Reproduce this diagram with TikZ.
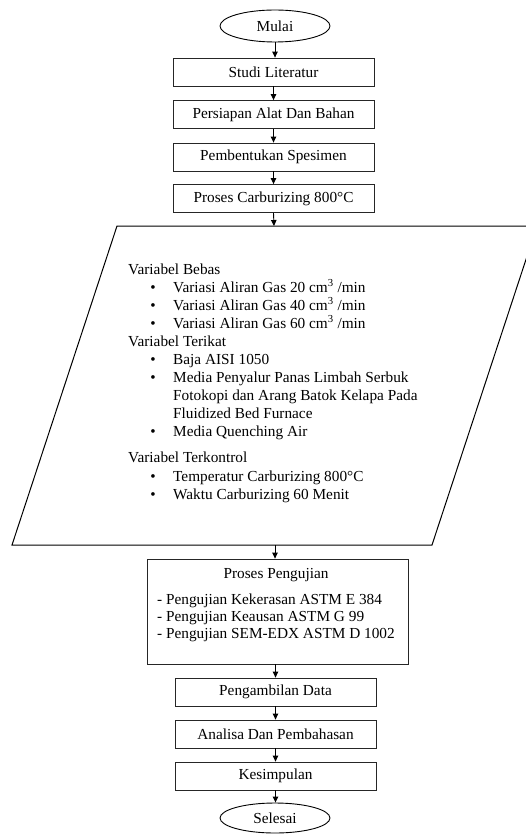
\documentclass[tikz,border=0pt]{standalone}
\usepackage{fontspec}
\setmainfont{Liberation Serif}
\usetikzlibrary{shapes.geometric}
\usetikzlibrary{arrows, arrows.meta}

\begin{document}
\begin{tikzpicture}[x=1pt, y=-1pt, font=\fontsize{15.3}{18}\selectfont]

\useasboundingbox (0, 0) rectangle (526, 834) ;

\def\topx{273.5}
\def\botx{275.5}

\tikzstyle{terminal} = [ellipse, draw=black, line width=.9pt, minimum width=110pt, minimum height=32pt, inner sep=0pt]
\tikzstyle{process box} = [rectangle, draw=black!85, line width=.8pt, minimum width=201pt, minimum height=28pt, inner sep=0pt]
\tikzstyle{flow line} = [line width=.9pt, -{Triangle[length=6pt, width=5.5pt]}]
\tikzstyle{list text} = [anchor=base west, inner sep=0pt]

% start and first steps

\node [terminal] (mulai) at (275, 26) {Mulai} ;
\node [process box] (studi) at (\topx, 72) {Studi Literatur} ;
\node [process box] (persiapan) at (\topx, 114.5) {Persiapan Alat Dan Bahan} ;
\node [process box] (pembentukan) at (\topx, 157) {Pembentukan Spesimen} ;
\node [process box] (carburizing) at (\topx, 198.5) {Proses Carburizing 800°C} ;

% input / output block with the variables

\coordinate (paratop) at (274, 226) ;
\coordinate (parabot) at (275, 545) ;

\begin{scope}
	\clip (0, 0) rectangle (526, 834) ;
	\draw [line width=1pt] (12, 545) -- (117, 226) -- (537, 226) -- (432, 545) -- cycle ;
\end{scope}

\node [list text] (bebas) at (128, 274) {Variabel Bebas} ;
\node [list text] (terikat) at (128, 346) {Variabel Terikat} ;
\node [list text] (terkontrol) at (128, 462) {Variabel Terkontrol} ;

\foreach \ybase/\itemtext in {
		292/{Variasi Aliran Gas 20 cm\textsuperscript{3} /min},
		310/{Variasi Aliran Gas 40 cm\textsuperscript{3} /min},
		328/{Variasi Aliran Gas 60 cm\textsuperscript{3} /min},
		364/{Baja AISI 1050},
		382/{Media Penyalur Panas Limbah Serbuk},
		400/{Fotokopi dan Arang Batok Kelapa Pada},
		418/{Fluidized Bed Furnace},
		436/{Media Quenching Air},
		481/{Temperatur Carburizing 800°C},
		499/{Waktu Carburizing 60 Menit}}
	\node [list text] (item\ybase) at (173, \ybase) {\itemtext} ;

\foreach \ybase in {292, 310, 328, 364, 382, 436, 481, 499}
	\node [anchor=base, inner sep=0pt] (dot\ybase) at (153, \ybase) {\textbullet} ;

% testing

\node [rectangle, draw=black!85, line width=.8pt, minimum width=261pt, minimum height=105pt] (pengujian) at (277.5, 611.5) {} ;
\node [anchor=base, inner sep=0pt] (ujititle) at (276, 578) {Proses Pengujian} ;
\node [list text] (uji1) at (157, 604) {- Pengujian Kekerasan ASTM E 384} ;
\node [list text] (uji2) at (157, 621) {- Pengujian Keausan ASTM G 99} ;
\node [list text] (uji3) at (157, 638) {- Pengujian SEM-EDX ASTM D 1002} ;

% last steps

\node [process box] (pengambilan) at (\botx, 692) {Pengambilan Data} ;
\node [process box] (analisa) at (\botx, 734) {Analisa Dan Pembahasan} ;
\node [process box] (kesimpulan) at (\botx, 776) {Kesimpulan} ;
\node [terminal, minimum height=30pt] (selesai) at (275, 818) {Selesai} ;

% arrows

\foreach \from/\to in {mulai/studi, studi/persiapan, persiapan/pembentukan, pembentukan/carburizing,
		pengambilan/analisa, analisa/kesimpulan, kesimpulan/selesai}
	\draw [flow line] (\from.south) -- (\from.south |- \to.north) ;

\draw [flow line] (carburizing.south) -- (paratop) ;
\draw [flow line] (parabot) -- (parabot |- pengujian.north) ;
\draw [flow line] (pengambilan.north |- pengujian.south) -- (pengambilan.north) ;

\end{tikzpicture}
\end{document}
